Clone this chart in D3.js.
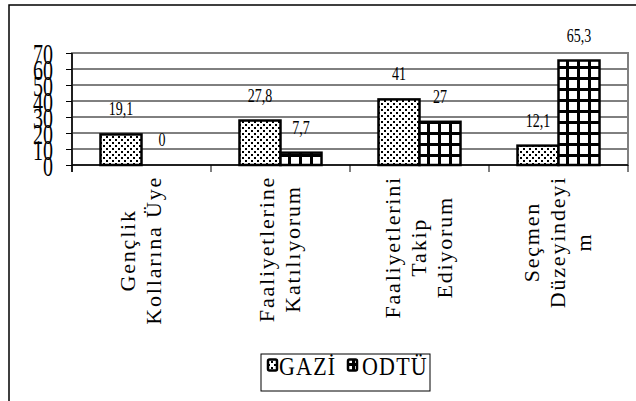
<!DOCTYPE html>
<html><head><meta charset="utf-8">
<script src="https://cdn.jsdelivr.net/npm/d3@7"></script>
<style>body{margin:0;background:#fff}svg{display:block}</style>
</head><body><svg id="c" width="636" height="401"></svg>
<script>
const categories = ["Gençlik Kollarına Üye","Faaliyetlerine Katılıyorum","Faaliyetlerini Takip Ediyorum","Seçmen Düzeyindeyim"];
const categoryLines = [["Gençlik","Kollarına Üye"],["Faaliyetlerine","Katılıyorum"],["Faaliyetlerini","Takip","Ediyorum"],["Seçmen","Düzeyindeyi","m"]];
const seriesNames = ["GAZİ","ODTÜ"];
const gazi = [19.1, 27.8, 41, 12.1];
const odtu = [0, 7.7, 27, 65.3];
const valueLabels = [["19,1","0"],["27,8","7,7"],["41","27"],["12,1","65,3"]];
const yTicks = [0,10,20,30,40,50,60,70];
const FONT = '"Liberation Serif", serif';

const svg = d3.select("#c");
svg.append("rect").attr("x",9).attr("y",5).attr("width",640).attr("height",410)
  .attr("fill","none").attr("stroke","#000").attr("stroke-width",1.5);

const defs = svg.append("defs");
const pd = defs.append("pattern").attr("id","dots").attr("patternUnits","userSpaceOnUse")
  .attr("width",6).attr("height",6);
pd.append("rect").attr("width",6).attr("height",6).attr("fill","#fff");
pd.append("rect").attr("x",1).attr("y",1).attr("width",2).attr("height",2).attr("fill","#000");
pd.append("rect").attr("x",4).attr("y",4).attr("width",2).attr("height",2).attr("fill","#000");
const pg = defs.append("pattern").attr("id","grid").attr("patternUnits","userSpaceOnUse")
  .attr("width",11).attr("height",11);
pg.append("rect").attr("width",11).attr("height",11).attr("fill","#000");
pg.append("rect").attr("x",3).attr("y",3).attr("width",8).attr("height",8).attr("fill","#fff");
const fills = ["url(#dots)","url(#grid)"];

const L = 72, R = 628, T = 53, B = 165;
const y = d3.scaleLinear().domain([0,70]).range([B,T]);
const x = d3.scaleBand().domain(categories).range([L,R]).padding(0);
const bw = x.bandwidth();
const barW = bw*0.295;
const x1 = d3.scaleBand().domain(seriesNames).range([(bw-2*barW)/2,(bw+2*barW)/2]).padding(0);

svg.append("g").selectAll("line").data(yTicks.filter(d=>d>0 && d<70)).join("line")
  .attr("x1",L).attr("x2",R).attr("y1",d=>y(d)).attr("y2",d=>y(d))
  .attr("stroke","#000").attr("stroke-width",1);
svg.append("rect").attr("x",L).attr("y",T).attr("width",R-L).attr("height",B-T)
  .attr("fill","none").attr("stroke","#808080").attr("stroke-width",2);

const data = categories.map((c,i)=>({c, vals:[gazi[i],odtu[i]], labels:valueLabels[i]}));
const grp = svg.append("g").selectAll("g").data(data).join("g")
  .attr("transform",d=>`translate(${x(d.c)},0)`);
grp.selectAll("rect").data(d=>d.vals.map((v,j)=>({v,j,s:seriesNames[j]}))).join("rect")
  .filter(d=>d.v>0)
  .attr("x",d=>x1(d.s)).attr("width",x1.bandwidth())
  .attr("y",d=>y(d.v)).attr("height",d=>B-y(d.v))
  .attr("fill",d=>fills[d.j]).attr("stroke","#000").attr("stroke-width",2.5);
grp.selectAll("text").data(d=>d.vals.map((v,j)=>({v,j,s:seriesNames[j],l:d.labels[j]}))).join("text")
  .attr("transform",d=>`translate(${x1(d.s)+x1.bandwidth()/2},${y(d.v)-19}) scale(1,1.35)`)
  .attr("text-anchor","middle").style("font-family",FONT).style("font-size","14px").attr("fill","#000").text(d=>d.l);

const ya = svg.append("g").attr("transform",`translate(${L},0)`)
  .call(d3.axisLeft(y).tickValues(yTicks).tickSize(6).tickPadding(13).tickFormat(d=>d));
ya.select(".domain").remove();
ya.selectAll(".tick line").attr("stroke","#000");
ya.selectAll(".tick text").style("font-size","20px").style("font-family",FONT)
  .attr("fill","#000").attr("dy","0.36em").attr("transform","scale(1,1.45)");
svg.append("line").attr("x1",L).attr("x2",L).attr("y1",T).attr("y2",B+7).attr("stroke","#000").attr("stroke-width",1.5);
svg.append("line").attr("x1",L).attr("x2",R).attr("y1",B).attr("y2",B).attr("stroke","#000").attr("stroke-width",1.5);
const bounds = categories.map(c=>x(c)).concat([x(categories[categories.length-1])+bw]);
svg.append("g").selectAll("line").data(bounds).join("line")
  .attr("x1",d=>d).attr("x2",d=>d).attr("y1",B).attr("y2",B+7).attr("stroke","#000").attr("stroke-width",1);

const pitch = 26;
categories.forEach((c,i)=>{
  const lines = categoryLines[i];
  const cx = x(c)+bw/2;
  const g = svg.append("g");
  const t = g.append("text").style("font-size","22px").style("font-family",FONT)
    .style("letter-spacing","1.8px").attr("text-anchor","middle").attr("fill","#000");
  lines.forEach((ln,k)=>{
    t.append("tspan").attr("x",0).attr("y",(k-(lines.length-1)/2)*pitch+6).text(ln);
  });
  let maxLen = 0;
  t.selectAll("tspan").each(function(){maxLen=Math.max(maxLen,this.getComputedTextLength());});
  g.attr("transform",`translate(${cx},${176+maxLen/2}) rotate(-90)`);
});

const lg = svg.append("g");
lg.append("rect").attr("x",261).attr("y",354).attr("width",169).attr("height",37)
  .attr("fill","#fff").attr("stroke","#000").attr("stroke-width",1);
const legX = [268,348], legTX = [279,362];
seriesNames.forEach((s,j)=>{
  lg.append("rect").attr("x",legX[j]).attr("y",359.5).attr("width",9).attr("height",11).attr("rx",1.5)
    .attr("fill",fills[j]).attr("stroke","#000").attr("stroke-width",2.5);
  lg.append("text").attr("transform",`translate(${legTX[j]},375) scale(1,1.15)`)
    .style("font-size","22px").style("font-family",FONT).style("letter-spacing","1.2px").attr("fill","#000").text(s);
});
</script></body></html>
